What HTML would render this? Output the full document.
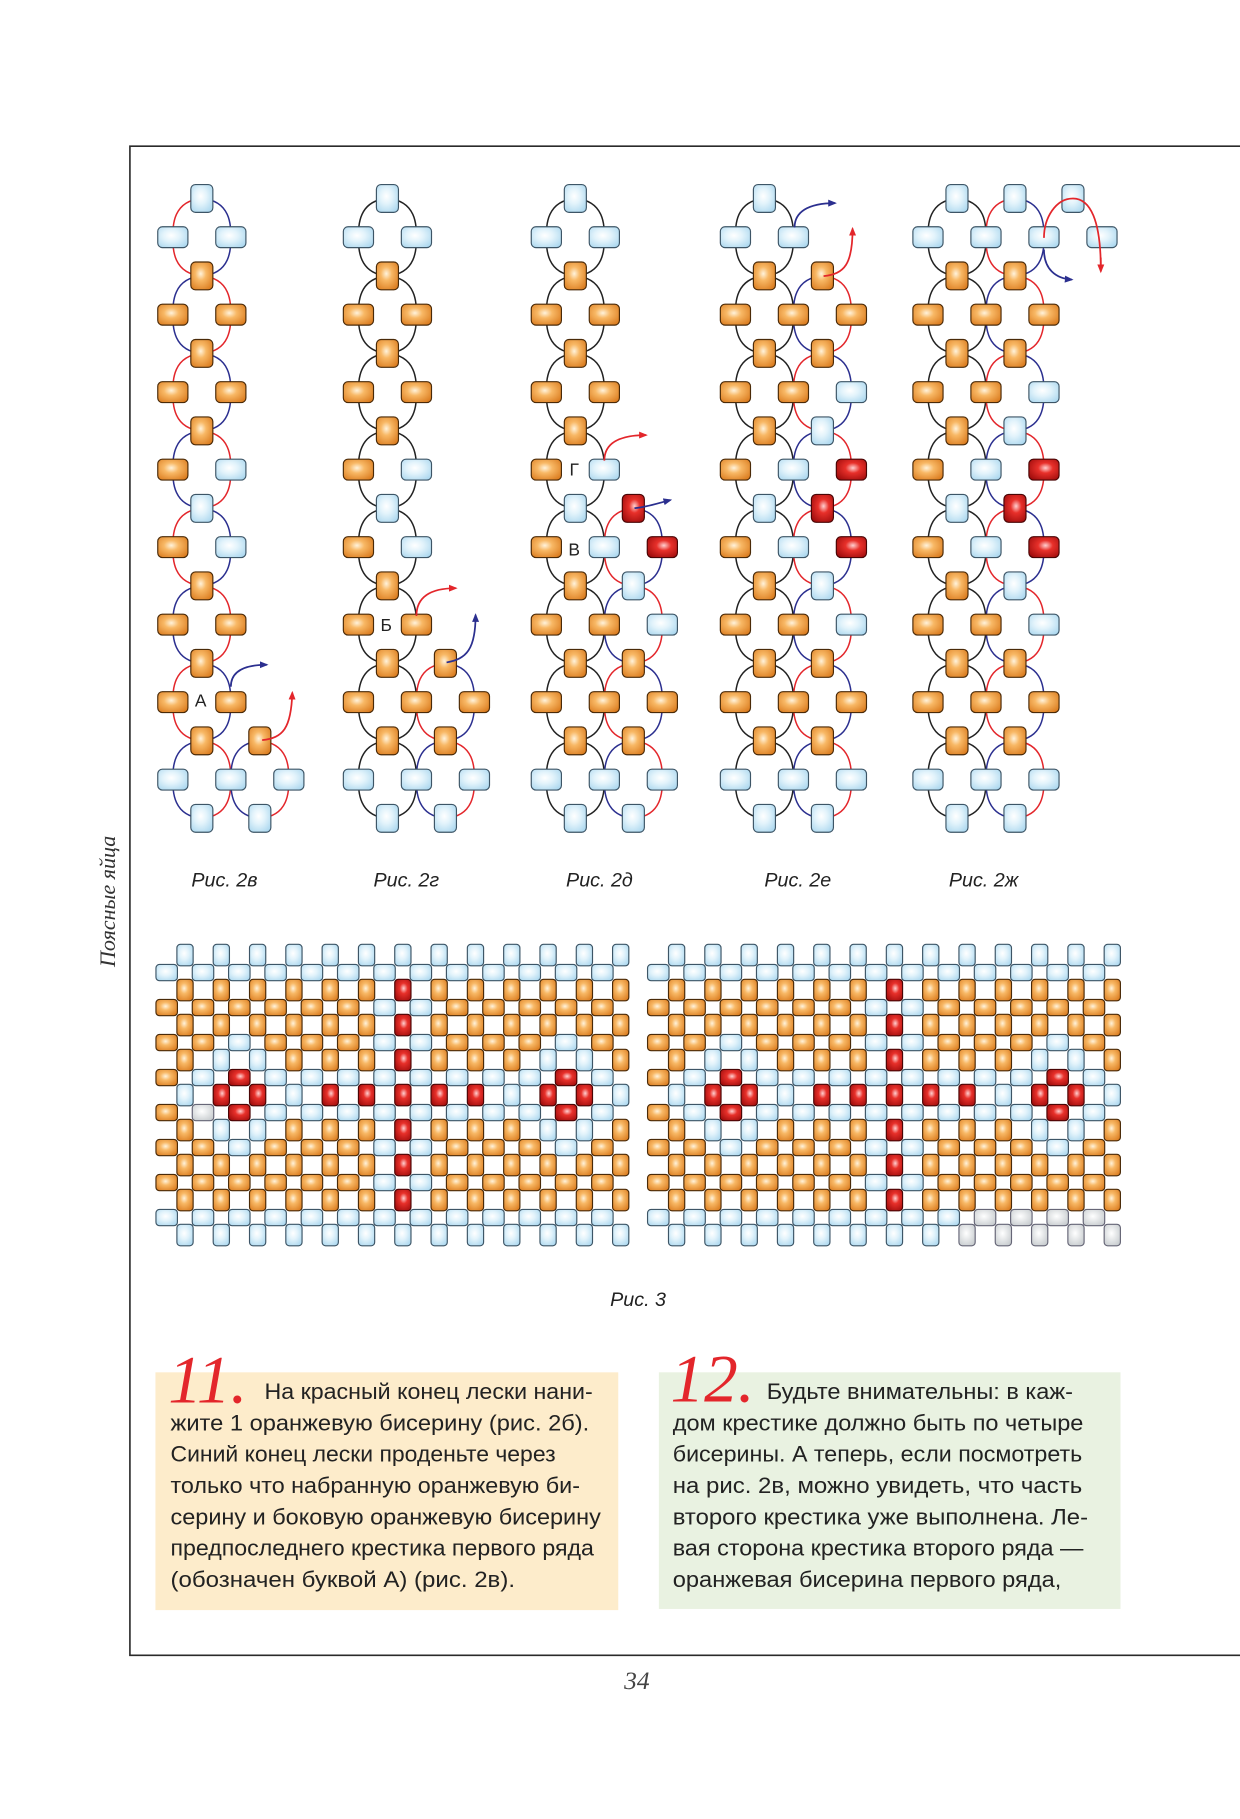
<!DOCTYPE html>
<html><head><meta charset="utf-8"><style>
html,body{margin:0;padding:0;background:#fff}
svg{display:block}
</style></head><body>
<svg id="s" width="1240" height="1819" viewBox="0 0 1069 1568" xmlns="http://www.w3.org/2000/svg">
<defs>
<radialGradient id="go" cx="0.45" cy="0.42" r="0.7"><stop offset="0" stop-color="#fff3dc"/><stop offset="0.35" stop-color="#f8b865"/><stop offset="1" stop-color="#d9791c"/></radialGradient>
<radialGradient id="gb" cx="0.45" cy="0.42" r="0.7"><stop offset="0" stop-color="#ffffff"/><stop offset="0.4" stop-color="#e2f3fb"/><stop offset="1" stop-color="#a9d6ee"/></radialGradient>
<radialGradient id="gr" cx="0.55" cy="0.42" r="0.7"><stop offset="0" stop-color="#ffd0d0"/><stop offset="0.35" stop-color="#e8302a"/><stop offset="1" stop-color="#9c0b0b"/></radialGradient>
<radialGradient id="gg" cx="0.45" cy="0.42" r="0.7"><stop offset="0" stop-color="#ffffff"/><stop offset="1" stop-color="#c4c9cc"/></radialGradient>
<marker id="ar" viewBox="0 0 10 10" refX="8" refY="5" markerWidth="5" markerHeight="5" orient="auto"><path d="M0,1 L10,5 L0,9 Z" fill="#e3262b"/></marker>
<marker id="ab" viewBox="0 0 10 10" refX="8" refY="5" markerWidth="5" markerHeight="5" orient="auto"><path d="M0,1 L10,5 L0,9 Z" fill="#2b2f8f"/></marker>
</defs>
<path d="M1069,126 L112,126 L112,1427 L1069,1427" fill="none" stroke="#2a2a2a" stroke-width="1.4"/>
<text transform="translate(99,777) rotate(-90)" text-anchor="middle" font-family="Liberation Serif, serif" font-style="italic" font-size="19" fill="#333">Поясные яйца</text>
<text x="549" y="1456" text-anchor="middle" font-family="Liberation Serif, serif" font-style="italic" font-size="22" fill="#444">34</text>
<g id="threads" fill="none" stroke-width="1.3"></g>
<g id="beads"></g>
<g id="arrows" fill="none" stroke-width="1.5">
<path d="M199,592 C199,578 212,573 230,573" stroke="#2b2f8f" marker-end="url(#ab)"/>
<path d="M226,638 C244,636 251,628 252,597" stroke="#e3262b" marker-end="url(#ar)"/>
<path d="M359,531 C359,514 372,507 393,507" stroke="#e3262b" marker-end="url(#ar)"/>
<path d="M385,571 C402,568 410,560 410,530" stroke="#2b2f8f" marker-end="url(#ab)"/>
<path d="M521,397 C521,382 534,375 557,375" stroke="#e3262b" marker-end="url(#ar)"/>
<path d="M547,438 C558,437 566,434 578,431" stroke="#2b2f8f" marker-end="url(#ab)"/>
<path d="M685,196 C685,183 696,175 720,175" stroke="#2b2f8f" marker-end="url(#ab)"/>
<path d="M710,238 C728,236 735,228 735,197" stroke="#e3262b" marker-end="url(#ar)"/>
<path d="M900,215 C900,232 910,240 924,241" stroke="#2b2f8f" marker-end="url(#ab)"/>
<path d="M900,205 C900,188 910,171 925,171 M925,171 C940,171 949,190 949,232" stroke="#e3262b"/>
<path d="M949,222 L949,234" stroke="#e3262b" marker-end="url(#ar)"/>
</g>
<g font-family="Liberation Sans, sans-serif" font-size="15" fill="#222">
<text x="168" y="609">А</text>
<text x="328" y="544">Б</text>
<text x="490" y="479">В</text>
<text x="491" y="410">Г</text>
</g>
<g font-family="Liberation Sans, DejaVu Sans, sans-serif" font-style="italic" font-size="17" fill="#222">
<text x="165" y="764">Рис. 2в</text>
<text x="322" y="764">Рис. 2г</text>
<text x="488" y="764">Рис. 2д</text>
<text x="659" y="764">Рис. 2е</text>
<text x="818" y="764">Рис. 2ж</text>
<text x="526" y="1126">Рис. 3</text>
</g>
<rect x="134" y="1183" width="399" height="205" fill="#fdeccb"/>
<rect x="568" y="1183" width="398" height="204" fill="#e9f2e1"/>
<g font-family="Liberation Serif, serif" font-style="italic" font-size="58" fill="#e3262b">
<text x="145" y="1209">11.</text>
<text x="578" y="1208">12.</text>
</g>
<g font-family="Liberation Sans, DejaVu Sans, sans-serif" font-size="19.5" fill="#222">
<text x="228" y="1206" textLength="283" lengthAdjust="spacingAndGlyphs">На красный конец лески нани-</text>
<text x="147" y="1233" textLength="361" lengthAdjust="spacingAndGlyphs">жите 1 оранжевую бисерину (рис. 2б).</text>
<text x="147" y="1260" textLength="332" lengthAdjust="spacingAndGlyphs">Синий конец лески проденьте через</text>
<text x="147" y="1287" textLength="353" lengthAdjust="spacingAndGlyphs">только что набранную оранжевую би-</text>
<text x="147" y="1314" textLength="371" lengthAdjust="spacingAndGlyphs">серину и боковую оранжевую бисерину</text>
<text x="147" y="1341" textLength="365" lengthAdjust="spacingAndGlyphs">предпоследнего крестика первого ряда</text>
<text x="147" y="1368" textLength="297" lengthAdjust="spacingAndGlyphs">(обозначен буквой А) (рис. 2в).</text>
<text x="661" y="1206" textLength="264" lengthAdjust="spacingAndGlyphs">Будьте внимательны: в каж-</text>
<text x="580" y="1233" textLength="354" lengthAdjust="spacingAndGlyphs">дом крестике должно быть по четыре</text>
<text x="580" y="1260" textLength="353" lengthAdjust="spacingAndGlyphs">бисерины. А теперь, если посмотреть</text>
<text x="580" y="1287" textLength="353" lengthAdjust="spacingAndGlyphs">на рис. 2в, можно увидеть, что часть</text>
<text x="580" y="1314" textLength="358" lengthAdjust="spacingAndGlyphs">второго крестика уже выполнена. Ле-</text>
<text x="580" y="1341" textLength="354" lengthAdjust="spacingAndGlyphs">вая сторона крестика второго ряда —</text>
<text x="580" y="1368" textLength="335" lengthAdjust="spacingAndGlyphs">оранжевая бисерина первого ряда,</text>
</g>
</svg>
<script>
(function(){
var NS="http://www.w3.org/2000/svg";
var B=document.getElementById("beads"),T=document.getElementById("threads");
var fills={O:"url(#go)",B:"url(#gb)",R:"url(#gr)",G:"url(#gg)"};
var strokes={O:"#4a2a08",B:"#3d5566",R:"#4a0505",G:"#667"};
function bead(x,y,w,h,c,r){var e=document.createElementNS(NS,"rect");e.setAttribute("x",x-w/2);e.setAttribute("y",y-h/2);e.setAttribute("width",w);e.setAttribute("height",h);e.setAttribute("rx",r);e.setAttribute("fill",fills[c]);e.setAttribute("stroke",strokes[c]);e.setAttribute("stroke-width","1");B.appendChild(e);}
function path(d,c){var e=document.createElementNS(NS,"path");e.setAttribute("d",d);e.setAttribute("stroke",c);T.appendChild(e);}
var base=["B.B..",".O...","O.O..",".O...","O.O..",".O...","O.B..",".B...","O.B..",".O...","O.O..",".O...","O.O..",".O.O.","B.B.B",".B.B."];
var f2v=[".B..."].concat(base);
var f2g=f2v.slice();f2g[12]=".O.O.";f2g[13]="O.O.O";
var f2d=f2v.slice();f2d[8]=".B.R.";f2d[9]="O.B.R";f2d[10]=".O.B.";f2d[11]="O.O.B";f2d[12]=".O.O.";f2d[13]="O.O.O";
var f2e=[".B...","B.B..",".O.O.","O.O.O",".O.O.","O.O.B",".O.B.","O.B.R",".B.R.","O.B.R",".O.B.","O.O.B",".O.O.","O.O.O",".O.O.","B.B.B",".B.B."];
var f2z=f2e.slice();f2z[0]=".B.B.B.";f2z[1]="B.B.B.B";
var figs=[[149,f2v,"rb"],[309,f2g,"k"],[471,f2d,"k"],[634,f2e,"k"],[800,f2z,"k"]];
figs.forEach(function(F){
 var x0=F[0],g=F[1];
 function at(i,j){return g[j]&&g[j][i]&&g[j][i]!=".";}
 for(var j=0;j<g.length;j++)for(var i=1;i<7;i+=2){
  if(at(i,j)&&at(i,j+2)){
   var cx=x0+i*25,y1=171+j*33.4,y2=y1+66.8,ym=y1+33.4;
   var lc,rc;
   if(F[2]=="rb"&&i==1){var a=(j/2)%2==0;lc=a?"#e3262b":"#2b2f8f";rc=a?"#2b2f8f":"#e3262b";}
   else if(i>=3){var a2=(j/2)%2==0;lc=a2?"#e3262b":"#2b2f8f";rc=a2?"#2b2f8f":"#e3262b";}
   else {lc=rc="#222";}
   path("M"+cx+","+y1+" C"+(cx-25)+","+(y1+2)+" "+(cx-25)+","+(ym-10)+" "+(cx-25)+","+ym+" C"+(cx-25)+","+(ym+10)+" "+(cx-25)+","+(y2-2)+" "+cx+","+y2,lc);
   path("M"+cx+","+y1+" C"+(cx+25)+","+(y1+2)+" "+(cx+25)+","+(ym-10)+" "+(cx+25)+","+ym+" C"+(cx+25)+","+(ym+10)+" "+(cx+25)+","+(y2-2)+" "+cx+","+y2,rc);
  }
 }
 for(var j=0;j<g.length;j++)for(var i=0;i<g[j].length;i++){
  var c=g[j][i];if(c==".")continue;
  var x=x0+i*25,y=171+j*33.4;
  if(j%2==0)bead(x,y,19,24,c,4);else bead(x,y,26,18,c,4);
 }
});
var V0="BBBBBBBBBBBBB",V1="OOOOOOROOOOOO",V3="OBBOOOROOOBBO",V4="BRRBRRRRRBRRB";
var rowsV=[V0,V1,V1,V3,V4,V3,V1,V1,V0];
var H1="OOOOOOBBOOOOO",H2="OOBOOOBBOOOBO",H3="OBRBBBBBBBBRB",H4L="OGRBBBBBBBBRB",H4R="OBRBBBBBBBBRB";
function grid(hx,vx,last){
 var rowsH=[V0,H1,H2,H3,last?H4R:H4L,H2,H1,last?"BBBBBBBBBGGGG":V0];
 var rv=rowsV.slice();if(last)rv[8]="BBBBBBBBGGGGG";
 for(var r=0;r<8;r++){var y=838.4+r*30.17;for(var k=0;k<13;k++)bead(hx+k*31.3,y,18.5,14,rowsH[r][k],3);}
 for(var r=0;r<9;r++){var y=823.3+r*30.17;for(var k=0;k<13;k++)bead(vx+k*31.3,y,14,18.5,rv[r][k],3);}
}
grid(143.7,159.5,false);grid(567.5,583.3,true);
})();
</script>
</body></html>
